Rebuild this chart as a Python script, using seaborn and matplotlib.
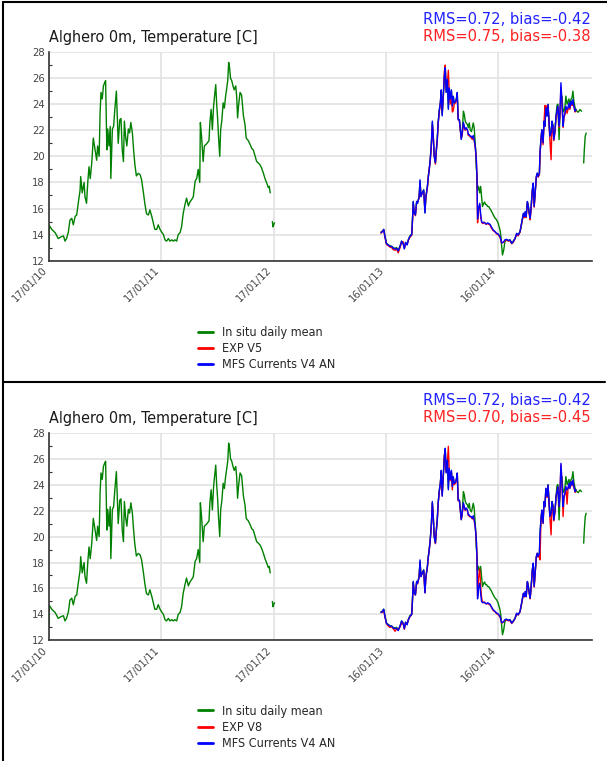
import numpy as np
import pandas as pd
import matplotlib
matplotlib.use("Agg")
import matplotlib.pyplot as plt
import matplotlib.dates as mdates
from matplotlib.ticker import MultipleLocator
from matplotlib.lines import Line2D
from matplotlib.font_manager import FontProperties
import seaborn as sns

# ---------------------------------------------------------------------------
# Data: daily sea temperature at Alghero, 0 m (days counted from 2010-01-17)
# ---------------------------------------------------------------------------
START = "2010-01-17"

# In situ record 2010-2012 (NaN marks a gap in the record)
obs_day = [0, 1, 9, 20, 30, 41, 47, 52, 57, 63, 68, 74, 79, 85, 90, 95, 101, 103, 108, 114,
           117, 122, 126, 130, 134, 139, 144, 150, 155, 158, 163, 166, 169, 173, 177, 180, 184, 186, 188, 191,
           195, 199, 201, 206, 210, 214, 219, 222, 225, 230, 234, 238, 242, 245, 249, 253, 258, 262, 266, 271,
           275, 279, 284, 290, 296, 301, 307, 312, 317, 323, 328, 334, 339, 344, 350, 355, 361, 366, 372, 377,
           382, 388, 393, 399, 404, 409, 415, 420, 426, 431, 436, 442, 447, 453, 458, 464, 469, 475, 480, 485,
           490, 492, 496, 501, 505, 512, 520, 523, 527, 531, 535, 538, 542, 545, 548, 551, 555, 558, 562, 566,
           570, 574, 577, 581, 584, 587, 590, 594, 598, 602, 607, 610, 613, 616, 621, 626, 632, 637, 641, 648,
           654, 659, 664, 670, 675, 680, 686, 691, 697, 702, 707, 713, 716, 719,
           722, 726, 728, 731, 733, 900]
obs_temp = [13.0, 14.7, 14.4, 14.15, 13.7, 13.85, 13.9, 13.5, 13.7, 14.2, 15.1, 15.25, 14.75, 15.4, 15.5, 16.4, 17.4, 18.45, 17.2, 18.0,
            16.9, 16.4, 18.0, 19.2, 18.3, 19.5, 21.4, 20.5, 19.7, 20.8, 20.0, 23.3, 24.9, 24.4, 25.4, 25.6, 25.8, 23.1, 20.5, 22.1,
            20.8, 22.3, 18.3, 22.1, 22.3, 23.6, 25.0, 23.1, 21.0, 22.8, 22.9, 20.5, 19.6, 22.7, 21.5, 20.8, 22.1, 21.8, 22.6, 21.8,
            20.5, 19.4, 18.5, 18.7, 18.6, 18.2, 17.2, 16.3, 15.6, 15.5, 15.9, 15.4, 14.9, 14.4, 14.4, 14.75, 14.4, 14.2, 14.0, 13.6,
            13.5, 13.7, 13.5, 13.6, 13.5, 13.6, 13.5, 14.0, 14.15, 14.6, 15.6, 16.3, 16.8, 16.2, 16.5, 16.7, 16.9, 18.1, 18.3, 19.0,
            18.0, 22.6, 21.5, 19.6, 20.8, 20.95, 21.2, 22.6, 23.6, 22.05, 23.85, 24.6, 25.5, 24.0, 22.95, 21.5, 20.0, 22.05, 22.8, 24.1,
            23.7, 24.6, 25.1, 25.8, 27.2, 26.8, 26.0, 25.8, 25.4, 25.1, 25.4, 24.6, 22.95, 23.85, 24.9, 24.7, 23.1, 22.45, 21.4, 21.2,
            20.9, 20.6, 20.5, 20.0, 19.6, 19.5, 19.35, 19.1, 18.7, 18.3, 18.0, 17.6, 17.7, 17.2,
            np.nan, 15.0, 14.6, 14.8, 14.9, np.nan]

# Days shared by the model runs (2013-2014)
model_day = [1079, 1083, 1088, 1092, 1097, 1103, 1108, 1114, 1119, 1125,
             1130, 1135, 1141, 1146, 1151, 1155, 1159, 1164, 1168, 1173,
             1179, 1181, 1184, 1187, 1191, 1195, 1198, 1203, 1206, 1209,
             1213, 1218, 1222, 1225, 1230, 1233, 1236, 1239, 1243, 1246,
             1249, 1252, 1256, 1259, 1262, 1265, 1269, 1272, 1275, 1278,
             1282, 1285, 1288, 1291, 1295, 1298, 1301, 1304, 1308, 1311,
             1314, 1317, 1321, 1324, 1327, 1330, 1334, 1337, 1340, 1343,
             1347, 1350, 1353, 1356, 1360, 1363, 1366, 1369, 1373, 1376,
             1379, 1382, 1386, 1389, 1391, 1393, 1396, 1400, 1403, 1406,
             1409, 1413, 1416, 1419, 1422, 1426, 1429, 1433, 1438, 1444,
             1450, 1455, 1460, 1466, 1469, 1471, 1474, 1478, 1482, 1487,
             1493, 1498, 1504, 1509, 1515, 1520, 1525, 1531, 1536, 1542,
             1545, 1548, 1551, 1555, 1558, 1561, 1564, 1568, 1571, 1574,
             1577, 1581, 1584, 1587, 1590, 1594, 1596, 1599, 1602, 1606,
             1609, 1612, 1615, 1619, 1622, 1625, 1628, 1632, 1635, 1638,
             1641, 1645, 1648, 1651, 1654, 1658, 1661, 1664, 1667, 1671,
             1674, 1677, 1680, 1684, 1687, 1690, 1693, 1697, 1700, 1703,
             1706, 1710, 1713]

# In situ record 2013-2014
obs2_day = model_day + [1716, 1720, 1726, 1731, 1735, 1738, 1740, 1743, 1746]
obs2_temp = [14.2, 14.25, 14.4, 13.9, 13.35, 13.2, 13.15, 13.1, 13.0, 12.95,
             13.0, 12.8, 13.1, 13.5, 13.35, 12.95, 13.4, 13.25, 13.6, 13.9,
             14.05, 14.9, 16.5, 15.7, 15.55, 16.5, 16.45, 16.9, 18.1, 16.95,
             17.2, 17.45, 15.7, 16.9, 17.7, 18.5, 19.0, 19.7, 21.0, 22.6,
             21.5, 20.1, 19.5, 20.5, 21.3, 22.6, 23.6, 24.1, 25.0, 23.2,
             24.8, 26.1, 26.7, 24.95, 25.8, 23.7, 25.2, 24.4, 25.0, 23.9,
             24.6, 24.1, 24.2, 24.4, 24.85, 22.85, 22.8, 22.1, 21.35, 21.8,
             23.46, 23.2, 22.7, 22.56, 22.44, 22.2, 22.56, 22.05, 21.9, 22.2,
             22.56, 22.2, 20.77, 19.1, 18.6, 17.4, 17.7, 17.2, 17.7, 16.9,
             16.15, 16.4, 16.5, 16.3, 16.3, 16.15, 16.15, 16.0, 15.8, 15.51,
             15.26, 15.13, 14.87, 14.36, 13.85, 13.2, 12.44, 12.82, 13.46, 13.6,
             13.54, 13.6, 13.4, 13.5, 13.7, 14.05, 14.0, 14.2, 14.8, 15.6,
             15.4, 15.7, 15.4, 16.5, 16.2, 15.7, 15.3, 16.4, 17.4, 17.9,
             16.2, 17.4, 18.4, 18.7, 18.5, 18.7, 20.2, 21.3, 22.0, 21.1,
             22.7, 22.3, 23.7, 23.1, 24.0, 22.9, 21.6, 21.9, 22.7, 22.4,
             21.4, 22.1, 23.1, 23.9, 24.0, 21.28, 23.3, 24.4, 24.6, 23.4,
             23.5, 23.8, 24.62, 24.0, 24.2, 24.4, 24.0, 24.4, 24.5, 25.0,
             24.23, 23.72, 23.59,
             23.46, 23.38, 23.59, 23.46, np.nan, 19.49, 20.51, 21.54, 21.79]

mfs_v4 = [14.15, 14.2, 14.4, 13.85, 13.3, 13.2, 13.1, 13.1, 12.95, 12.9,
          12.95, 12.75, 13.1, 13.5, 13.3, 12.9, 13.4, 13.2, 13.6, 13.85,
          14.0, 14.9, 16.55, 15.65, 15.5, 16.55, 16.4, 16.9, 18.2, 16.9,
          17.2, 17.4, 15.65, 16.9, 17.7, 18.45, 19.0, 19.7, 21.0, 22.7,
          21.5, 20.0, 19.5, 20.5, 21.3, 22.6, 23.6, 24.1, 25.1, 23.1,
          24.9, 26.15, 26.8, 24.9, 25.9, 23.6, 25.25, 24.4, 25.1, 23.85,
          24.6, 24.1, 24.2, 24.4, 24.9, 22.8, 22.8, 22.05, 21.3, 21.8,
          22.6, 22.3, 22.05, 22.2, 22.05, 21.67, 21.67, 21.54, 21.54, 21.4,
          21.6, 21.3, 20.65, 19.75, 18.45, 15.2, 16.0, 16.4, 15.6, 15.0,
          14.9, 14.95, 14.9, 14.85, 14.82, 14.9, 14.85, 14.8, 14.6, 14.35,
          14.23, 14.1, 14.05, 13.85, 13.6, 13.38, 13.38, 13.46, 13.6, 13.64,
          13.54, 13.6, 13.33, 13.46, 13.72, 14.1, 13.97, 14.23, 14.87, 15.64,
          15.38, 15.77, 15.38, 16.54, 16.15, 15.64, 15.26, 16.41, 17.44, 17.95,
          16.15, 17.44, 18.46, 18.72, 18.46, 18.72, 20.26, 21.28, 22.05, 21.03,
          22.69, 22.31, 23.72, 23.08, 23.97, 22.82, 21.54, 21.79, 22.69, 22.31,
          21.28, 22.05, 23.08, 23.46, 23.85, 22.31, 23.46, 25.64, 24.36, 22.31,
          23.08, 23.33, 23.85, 23.59, 23.72, 24.1, 23.72, 24.23, 23.97, 24.36,
          23.85, 23.46, 23.59]

exp_v5 = [14.1, 14.25, 14.35, 13.8, 13.25, 13.15, 13.05, 13.0, 12.85, 12.8,
          12.9, 12.6, 13.0, 13.4, 13.45, 12.95, 13.3, 13.25, 13.55, 13.8,
          13.95, 14.8, 16.3, 15.7, 15.45, 16.45, 16.5, 16.8, 17.9, 17.0,
          17.1, 17.3, 15.9, 16.8, 17.6, 18.4, 19.1, 19.6, 20.9, 22.4,
          21.6, 20.1, 19.4, 20.4, 21.2, 22.5, 23.5, 24.0, 24.8, 23.3,
          24.7, 26.5, 27.0, 25.3, 25.6, 26.6, 24.9, 24.0, 24.8, 23.4,
          23.5, 24.0, 24.1, 24.3, 24.5, 22.9, 22.7, 22.0, 21.4, 21.6,
          22.5, 22.2, 22.0, 22.1, 22.0, 21.6, 21.6, 21.5, 21.4, 21.3,
          21.5, 21.2, 20.6, 19.8, 18.3, 14.9, 15.9, 16.3, 15.4, 15.0,
          14.85, 14.9, 14.95, 14.8, 14.8, 14.85, 14.8, 14.75, 14.5, 14.3,
          14.2, 14.05, 14.0, 13.8, 13.55, 13.35, 13.4, 13.4, 13.55, 13.6,
          13.5, 13.55, 13.3, 13.4, 13.7, 14.05, 13.9, 14.2, 14.8, 15.55,
          15.3, 15.7, 15.3, 16.45, 16.1, 15.55, 15.13, 16.3, 17.35, 17.7,
          16.1, 17.35, 18.4, 18.65, 18.4, 18.6, 20.1, 21.2, 22.0, 20.9,
          22.6, 23.9, 23.6, 23.9, 23.9, 22.7, 21.3, 19.74, 22.6, 22.2,
          21.2, 21.95, 23.0, 23.4, 23.8, 22.2, 23.3, 25.3, 24.2, 22.2,
          23.0, 23.2, 23.7, 23.3, 23.6, 24.0, 23.6, 24.1, 23.9, 24.1,
          23.8, 23.4, 23.5]

exp_v8 = [14.15, 14.15, 14.3, 13.8, 13.3, 13.1, 13.0, 13.05, 12.9, 12.7,
          12.9, 12.8, 13.05, 13.3, 13.35, 12.85, 13.35, 13.3, 13.6, 13.8,
          14.0, 14.85, 16.4, 15.6, 15.5, 16.5, 16.35, 16.85, 18.0, 16.95,
          17.15, 17.35, 15.7, 16.85, 17.65, 18.4, 19.0, 19.65, 20.95, 22.6,
          21.55, 20.05, 19.45, 20.45, 21.25, 22.55, 23.55, 24.05, 25.0, 23.2,
          24.8, 26.3, 26.6, 25.0, 25.7, 26.95, 25.0, 24.3, 25.0, 23.6,
          24.5, 24.0, 24.1, 24.3, 24.8, 22.75, 22.75, 22.0, 21.3, 21.7,
          22.5, 22.25, 22.0, 22.15, 22.0, 21.6, 21.6, 21.5, 21.5, 21.35,
          21.55, 21.25, 20.6, 19.7, 18.5, 15.4, 16.8, 17.5, 16.2, 15.3,
          14.95, 14.9, 14.95, 14.85, 14.8, 14.85, 14.8, 14.75, 14.55, 14.3,
          14.2, 14.05, 14.0, 13.8, 13.55, 13.35, 13.35, 13.45, 13.55, 13.6,
          13.5, 13.55, 13.3, 13.45, 13.7, 14.05, 13.95, 14.2, 14.8, 15.6,
          15.35, 15.75, 15.35, 16.5, 16.1, 15.6, 15.2, 16.35, 17.4, 17.9,
          16.1, 17.4, 18.4, 18.7, 18.4, 18.7, 18.2, 21.2, 22.0, 21.0,
          22.65, 22.3, 23.65, 23.0, 23.9, 22.8, 21.5, 20.13, 22.6, 22.3,
          21.2, 22.0, 23.0, 23.4, 23.8, 22.3, 23.4, 25.5, 24.3, 21.54,
          23.0, 23.3, 23.8, 22.5, 23.7, 24.0, 23.7, 24.2, 23.9, 24.3,
          23.8, 23.4, 23.55]

tick_dates = ["2010-01-17", "2011-01-17", "2012-01-17", "2013-01-16", "2014-01-16"]
x_end = "2014-11-16"
y_ticks = [12, 14, 16, 18, 20, 22, 24, 26, 28]

panels = [
    {"exp_label": "EXP V5", "exp": exp_v5,
     "rms": ["RMS=0.72, bias=-0.42", "RMS=0.75, bias=-0.38"]},
    {"exp_label": "EXP V8", "exp": exp_v8,
     "rms": ["RMS=0.72, bias=-0.42", "RMS=0.70, bias=-0.45"]},
]

OBS_LABEL = "In situ daily mean"
MFS_LABEL = "MFS Currents V4 AN"
COLORS = {"obs": "#008000", "exp": "#ff0000", "mfs": "#0000ff"}


def to_dates(days):
    return pd.Timestamp(START) + pd.to_timedelta(np.asarray(days, dtype=float), unit="D")


def series_frame(days, temps, name, part):
    """Long-format frame; runs separated by NaN get their own unit id."""
    temps = np.asarray(temps, dtype=float)
    seg = np.cumsum(np.isnan(temps))
    df = pd.DataFrame({"date": to_dates(days), "temp": temps,
                       "segment": [f"{name}-{part}-{s}" for s in seg], "series": name})
    return df.dropna(subset=["temp"])


# ---------------------------------------------------------------------------
# Figure
# ---------------------------------------------------------------------------
sns.set_theme(style="white")
plt.rcParams["font.family"] = ["DejaVu Sans"]


def font(size):
    return FontProperties(family="DejaVu Sans", stretch="condensed", size=size)


W, H = 607, 761
fig = plt.figure(figsize=(W / 100, H / 100), dpi=100)


def fx(px):
    return px / W


def fy(py):
    return 1 - py / H


panel_shift = 380.7
for i, p in enumerate(panels):
    off = i * panel_shift
    top_px, bot_px = 52 + off, 260.7 + off - (1.0 if i else 0.0)
    ax = fig.add_axes([fx(49), fy(bot_px), fx(591.7) - fx(49), fy(top_px) - fy(bot_px)])

    df = pd.concat([
        series_frame(obs_day, obs_temp, OBS_LABEL, "a"),
        series_frame(obs2_day, obs2_temp, OBS_LABEL, "b"),
        series_frame(model_day, p["exp"], p["exp_label"], "a"),
        series_frame(model_day, mfs_v4, MFS_LABEL, "a"),
    ], ignore_index=True)

    sns.lineplot(data=df, x="date", y="temp", hue="series", units="segment",
                 estimator=None, hue_order=[OBS_LABEL, p["exp_label"], MFS_LABEL],
                 palette=[COLORS["obs"], COLORS["exp"], COLORS["mfs"]],
                 linewidth=1.0, legend=False, ax=ax)

    ax.set_xlim(pd.Timestamp(tick_dates[0]), pd.Timestamp(x_end))
    ax.set_ylim(12, 28)
    ax.set_xticks(pd.to_datetime(tick_dates))
    ax.xaxis.set_major_formatter(mdates.DateFormatter("%d/%m/%y"))
    ax.set_yticks(y_ticks)
    ax.yaxis.set_minor_locator(MultipleLocator(1))
    ax.set_xlabel("")
    ax.set_ylabel("")

    ax.grid(True, which="major", color="#e2e2e2", linewidth=1.2)
    ax.set_axisbelow(True)
    for side in ("top", "right"):
        ax.spines[side].set_visible(False)
    for side in ("left", "bottom"):
        ax.spines[side].set_color("#333333")
        ax.spines[side].set_linewidth(1.2)
    ax.tick_params(axis="both", which="major", direction="in", length=4, width=1,
                   color="#333333", labelcolor="#444444", pad=3)
    ax.tick_params(axis="y", which="minor", direction="in", length=2, width=0.8,
                   color="#333333", left=True)
    for lab in ax.get_yticklabels():
        lab.set_fontproperties(font(8))
    for lab in ax.get_xticklabels():
        lab.set_fontproperties(font(8))
        lab.set_rotation(45)
        lab.set_ha("right")

    # title and skill scores
    fig.text(fx(49), fy(42 + off), "Alghero 0m, Temperature [C]", fontproperties=font(11.5),
             color="#1a1a1a", ha="left", va="baseline")
    fig.text(fx(591), fy(24.3 + off), p["rms"][0], fontproperties=font(11.8), color="#2222ff",
             ha="right", va="baseline")
    fig.text(fx(591), fy(41 + off), p["rms"][1], fontproperties=font(11.8), color="#ff2222",
             ha="right", va="baseline")

    handles = [Line2D([], [], color=COLORS["obs"], lw=2),
               Line2D([], [], color=COLORS["exp"], lw=2),
               Line2D([], [], color=COLORS["mfs"], lw=2)]
    fig.legend(handles, [OBS_LABEL, p["exp_label"], MFS_LABEL],
               loc="center left", bbox_to_anchor=(fx(198), fy(348.5 + off - (1.8 if i else 0))),
               frameon=False, prop=font(9), handlelength=1.2, handletextpad=0.7,
               labelspacing=0.25, borderpad=0, borderaxespad=0)

# panel frames
frame = dict(color="black", linewidth=1.5, transform=fig.transFigure)
fig.add_artist(Line2D([fx(3), fx(607)], [fy(1.7), fy(1.7)], **frame))
fig.add_artist(Line2D([fx(3), fx(3)], [fy(1.7), fy(H)], **frame))
fig.add_artist(Line2D([fx(3), fx(605)], [fy(382), fy(382)], **frame))

fig.savefig("out.png", dpi=100)
